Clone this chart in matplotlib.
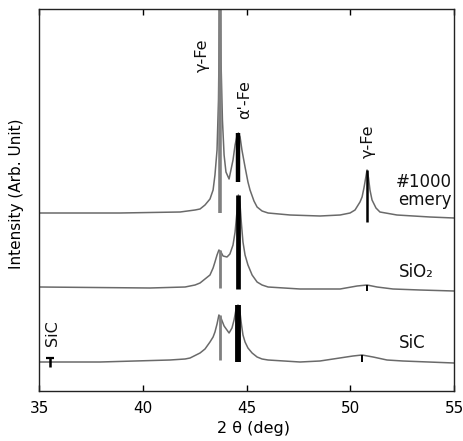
import matplotlib
matplotlib.use("Agg")
import matplotlib.pyplot as plt

plt.rcParams['font.family'] = ['DejaVu Sans']

# ---- data (2theta in deg, intensity in arbitrary units above each trace baseline) ----
emery_x = [35.00, 38.90, 41.80, 42.52, 42.76, 43.00, 43.24, 43.39, 43.48, 43.58, 43.65,
           43.72, 43.77, 43.84, 43.92, 44.01, 44.16, 44.25, 44.35, 44.45, 44.54, 44.61,
           44.69, 44.78, 44.93, 45.07, 45.17, 45.36, 45.51, 45.75, 46.04, 47.10, 48.54,
           49.51, 49.99, 50.23, 50.47, 50.57, 50.66, 50.76, 50.81, 50.88, 50.95, 51.05,
           51.24, 51.43, 52.25, 53.84, 55.00]
emery_y = [0, 0, 1, 3, 4, 8, 14, 23, 38, 63, 113,
           240, 153, 93, 58, 41, 34, 43, 53, 68, 77, 80,
           76, 63, 46, 31, 23, 12, 6, 2, 0, -2, -3,
           -2, 0, 3, 11, 16, 25, 37, 43, 35, 23, 13,
           5, 1, -2, -4, -5]

sio2_x = [35.00, 40.35, 42.04, 42.52, 42.76, 43.00, 43.24, 43.39, 43.48, 43.58, 43.67,
          43.77, 43.87, 44.06, 44.20, 44.35, 44.45, 44.54, 44.61, 44.69, 44.76, 44.83,
          44.93, 45.07, 45.27, 45.51, 45.75, 46.04, 47.58, 49.51, 50.33, 50.81, 51.29,
          52.06, 53.36, 55.00]
sio2_y = [0, -1, 0, 2, 4, 8, 12, 19, 25, 32, 37,
          35, 31, 30, 33, 42, 55, 75, 92, 82, 62, 45,
          32, 22, 12, 5, 2, 0, -2, -2, 1, 2, 0,
          -2, -3, -4]

sic_x = [35.00, 37.94, 41.31, 42.04, 42.28, 42.76, 43.00, 43.24, 43.39, 43.48, 43.58,
         43.67, 43.77, 43.92, 44.16, 44.30, 44.40, 44.49, 44.59, 44.69, 44.76, 44.83,
         44.93, 45.07, 45.27, 45.51, 45.75, 46.04, 47.58, 48.54, 50.13, 50.57, 51.10,
         51.77, 52.54, 55.00]
sic_y = [0, 0, 2, 3, 4, 9, 13, 20, 25, 30, 38,
         47, 44, 36, 29, 34, 42, 52, 57, 49, 37, 27,
         20, 14, 9, 5, 3, 2, 0, 1, 6, 7, 5,
         2, 1, -1]

offsets = [178, 104, 29]          # vertical shift of each trace
trace_labels = ["#1000\nemery", "SiO₂", "SiC"]

# reference sticks: position, lower end, upper end (absolute units), colour, width
stick_x   = [43.72, 44.61, 50.81, 43.70, 44.61, 50.81, 43.70, 44.61, 50.57, 35.53]
stick_lo  = [178,   209,   169,   103,   102,   100,   31,    29,    29,    24]
stick_hi  = [400,   258,   221,   141,   196,   106,   76,    86,    36,    33]
stick_col = ['#808080', 'black', 'black', '#808080', 'black', 'black',
             '#808080', 'black', 'black', 'black']
stick_lw  = [2.6, 3.2, 1.8, 2.0, 3.4, 1.4, 2.0, 4.2, 1.4, 1.8]

# peak annotations (x, y, text)
peak_text = ["γ-Fe", "α'-Fe", "γ-Fe", "SiC"]
peak_tx   = [42.86, 44.93, 50.86, 35.63]
peak_ty   = [336, 291, 250, 58]

xticks = [35, 40, 45, 50, 55]

# ---- figure ----
fig = plt.figure(figsize=(4.64, 4.41), dpi=100)
ax = fig.add_axes([39/464, 1-391/441, 415/464, 382/441])

curve_color = '#6a6a6a'
for xs, ys, off in zip([emery_x, sio2_x, sic_x], [emery_y, sio2_y, sic_y], offsets):
    ax.plot(xs, [v + off for v in ys], color=curve_color, lw=1.1, solid_joinstyle='round')

for x, lo, hi, c, lw in zip(stick_x, stick_lo, stick_hi, stick_col, stick_lw):
    ax.plot([x, x], [lo, hi], color=c, lw=lw, solid_capstyle='butt')
# small cap on the SiC marker
ax.plot([stick_x[-1]], [stick_hi[-1]], marker='_', ms=6, mew=1.6, color='black')

for t, x, y in zip(peak_text, peak_tx, peak_ty):
    ax.text(x, y, t, rotation=90, ha='center', va='center', fontsize=11.5, color='#111111')

ax.text(54.9, 200, trace_labels[0], ha='right', va='center', fontsize=12,
        multialignment='right', linespacing=1.0, color='#111111')
ax.text(52.35, 119, trace_labels[1], ha='left', va='center', fontsize=12, color='#111111')
ax.text(52.35, 48, trace_labels[2], ha='left', va='center', fontsize=12, color='#111111')

ax.set_xlim(35, 55)
ax.set_ylim(0, 382)
ax.set_xticks(xticks)
ax.set_xticklabels([str(v) for v in xticks])
ax.set_yticks([])
ax.tick_params(axis='x', direction='in', length=4, width=1, top=True, labelsize=11, pad=7)
for s in ax.spines.values():
    s.set_linewidth(1.0)
    s.set_color('#222222')

ax.set_xlabel("2 θ (deg)", fontsize=11.5)
ax.xaxis.set_label_coords(0.518, -0.078)
ax.set_ylabel("Intensity (Arb. Unit)", fontsize=11)
ax.yaxis.set_label_coords(-0.036, 0.516)

fig.savefig("out.png", dpi=100)
